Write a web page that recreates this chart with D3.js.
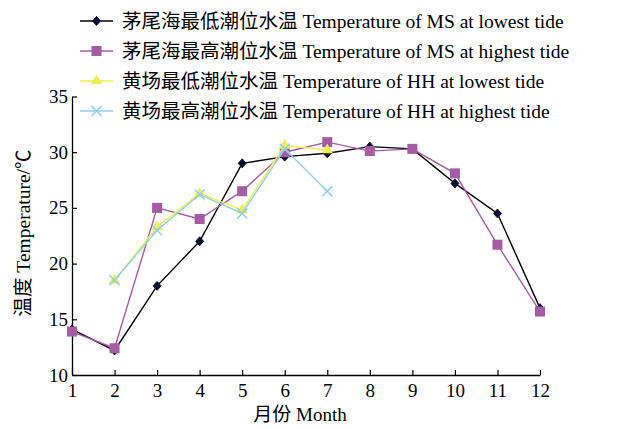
<!DOCTYPE html>
<html><head><meta charset="utf-8">
<script src="https://cdn.jsdelivr.net/npm/d3@7"></script>
<style>body{margin:0;background:#fff;}svg{display:block;}</style>
</head><body>
<svg id="c" width="635" height="429"></svg>
<script>
const months = [1,2,3,4,5,6,7,8,9,10,11,12];
const msLowest  = [14.1,12.2,18.0,22.0,29.0,29.6,29.9,30.5,30.3,27.2,24.5,16.0];
const msHighest = [13.9,12.4,25.0,24.0,26.5,30.0,30.9,30.1,30.3,28.1,21.7,15.7];
const hhMonths = [2,3,4,5,6,7];
const hhLowest  = [18.5,23.3,26.3,24.8,30.6,30.2];
const hhHighest = [18.5,23.0,26.2,24.5,30.3,26.5];
const yTicks = [10,15,20,25,30,35];
const seriesNames = [
  "茅尾海最低潮位水温 Temperature of MS at lowest tide",
  "茅尾海最高潮位水温 Temperature of MS at highest tide",
  "黄场最低潮位水温 Temperature of HH at lowest tide",
  "黄场最高潮位水温 Temperature of HH at highest tide"
];
const xLabel = "月份 Month";
const yLabel = "温度 Temperature/℃";

const font = "'Liberation Serif','Times New Roman','Noto Sans CJK SC',serif";
const svg = d3.select("#c");
const x = d3.scaleLinear().domain([1,12]).range([72,540]);
const y = d3.scaleLinear().domain([10,35]).range([375,96.5]);

const series = [
  {name:seriesNames[0], xs:months, ys:msLowest, color:"#000000", fill:"#0b0b3b", marker:"diamond"},
  {name:seriesNames[1], xs:months, ys:msHighest, color:"#a65ca2", fill:"#a65ca2", marker:"square"},
  {name:seriesNames[2], xs:hhMonths, ys:hhLowest, color:"#eeee55", fill:"#eeee55", marker:"triangle"},
  {name:seriesNames[3], xs:hhMonths, ys:hhHighest, color:"#8fcfe6", fill:"#8fcfe6", marker:"cross"}
];

// axes
const gx = svg.append("g").attr("transform","translate(0,375)")
  .call(d3.axisBottom(x).tickValues(months).tickSizeInner(-5).tickSizeOuter(0).tickPadding(8).tickFormat(d3.format("d")));
const gy = svg.append("g").attr("transform","translate(72,0)")
  .call(d3.axisLeft(y).tickValues(yTicks).tickSizeInner(-5).tickSizeOuter(0).tickPadding(4));
[gx,gy].forEach(g=>{
  g.select(".domain").attr("stroke","#000").attr("stroke-width",1.3);
  g.selectAll(".tick line").attr("stroke","#000").attr("stroke-width",1.2);
  g.selectAll(".tick text").attr("font-family",font).attr("font-size",19).attr("fill","#000");
});
gx.selectAll(".tick text").attr("dy","0.75em");

svg.append("text").attr("x",300).attr("y",421).attr("text-anchor","middle")
  .attr("font-family",font).attr("font-size",19).text(xLabel);
svg.append("text").attr("transform","translate(30,233) rotate(-90)").attr("text-anchor","middle")
  .attr("font-family",font).attr("font-size",19.5).text(yLabel);

function drawMarker(g, s, cx, cy){
  if(s.marker==="diamond"){
    g.append("path").attr("d",`M${cx},${cy-4.5}L${cx+4},${cy}L${cx},${cy+4.5}L${cx-4},${cy}Z`)
      .attr("fill",s.fill).attr("stroke","#000").attr("stroke-width",0.8);
  } else if(s.marker==="square"){
    g.append("rect").attr("x",cx-5).attr("y",cy-5).attr("width",10).attr("height",10).attr("fill",s.fill);
  } else if(s.marker==="triangle"){
    g.append("path").attr("d",d3.symbol(d3.symbolTriangle,55)()).attr("transform",`translate(${cx},${cy})`)
      .attr("fill",s.fill);
  } else {
    const r=5;
    g.append("path").attr("d",`M${cx-r},${cy-r}L${cx+r},${cy+r}M${cx-r},${cy+r}L${cx+r},${cy-r}`)
      .attr("stroke",s.color).attr("stroke-width",1.5).attr("fill","none");
  }
}

const line = d3.line().x(d=>x(d[0])).y(d=>y(d[1]));
series.forEach(s=>{
  const pts = s.xs.map((m,i)=>[m,s.ys[i]]);
  const g = svg.append("g");
  g.append("path").datum(pts).attr("d",line).attr("fill","none").attr("stroke",s.color).attr("stroke-width",1.4);
  pts.forEach(p=>drawMarker(g,s,x(p[0]),y(p[1])));
});

// legend
const legY = [21,51,81,111];
series.forEach((s,i)=>{
  const g = svg.append("g");
  const yy = legY[i];
  g.append("line").attr("x1",80).attr("x2",113).attr("y1",yy).attr("y2",yy).attr("stroke",s.color).attr("stroke-width",1.5);
  drawMarker(g,s,96.5,yy);
  g.append("text").attr("x",122).attr("y",yy).attr("dy","0.35em").attr("font-family",font).attr("font-size",19.5).text(s.name);
});
</script>
</body></html>
